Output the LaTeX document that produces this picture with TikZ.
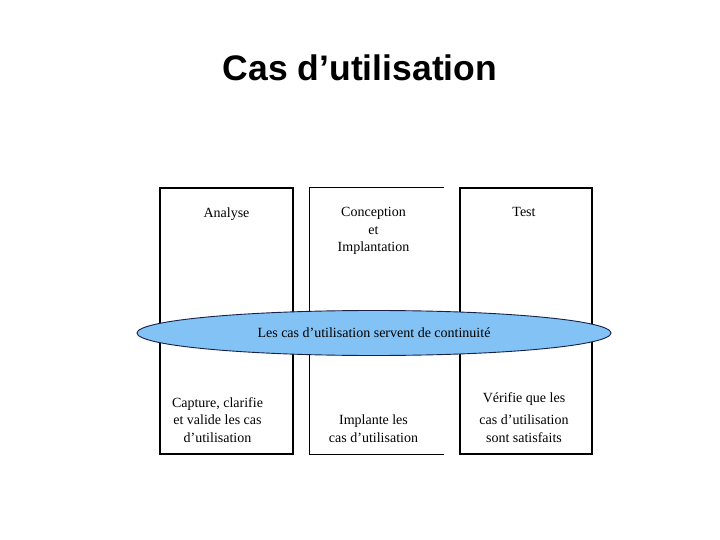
\documentclass[tikz,border=0pt]{standalone}
\usepackage{fontspec}
\setmainfont{Liberation Serif}
\newfontfamily\titlefont{Liberation Sans}
\usetikzlibrary{positioning,shapes.geometric}
\definecolor{ovalblue}{RGB}{130,194,245}
\definecolor{ovalline}{RGB}{22,32,72}

\begin{document}
\begin{tikzpicture}[x=1pt, y=1pt,
      phase/.style={rectangle, draw, line width=1.1pt, minimum width=133pt,
                    minimum height=266pt, inner sep=0pt},
      lbl/.style={align=center, inner sep=0pt, font=\fontsize{14}{17.5}\selectfont}]
    \useasboundingbox (0,0) rectangle (720,-540);
    \node[font=\titlefont\bfseries\fontsize{35.5}{40}\selectfont] (title) at (360,-68) {Cas d’utilisation};
    % the three phases
    \node[phase] (ana) at (226.5,-321) {};
    \node[phase, draw=none] (con) at (376.5,-321) {};
    \node[phase, minimum width=132pt] (tst) at (526,-321) {};
    \draw[line width=1.1pt] (con.north east) -- (con.north west) -- (con.south west) -- (con.south east);
    % continuity oval
    \node[ellipse, draw=ovalline, line width=0.9pt, fill=ovalblue, minimum width=474pt,
          minimum height=45pt, inner sep=0pt, font=\fontsize{14}{15}\selectfont] (oval) at (374,-333)
          {Les cas d’utilisation servent de continuité};
    % phase names
    \node[lbl, anchor=north, below=20pt of ana.north] (anat) {Analyse};
    \node[lbl, anchor=north, below=20pt of con.north, xshift=-3pt] (cont) {Conception\\et\\Implantation};
    \node[lbl, anchor=north, below=20pt of tst.north, xshift=-2pt] (tstt) {Test};
    % what each phase does
    \node[lbl, anchor=south, above=12pt of ana.south, xshift=-9pt] (anad) {Capture, clarifie\\et valide les cas\\d’utilisation};
    \node[lbl, anchor=south, above=12pt of con.south, xshift=-3pt] (cond) {Implante les\\cas d’utilisation};
    \node[lbl, anchor=south, above=12pt of tst.south, xshift=-2pt] (tstd) {Vérifie que les\\[5pt]cas d’utilisation\\sont satisfaits};
\end{tikzpicture}
\end{document}
